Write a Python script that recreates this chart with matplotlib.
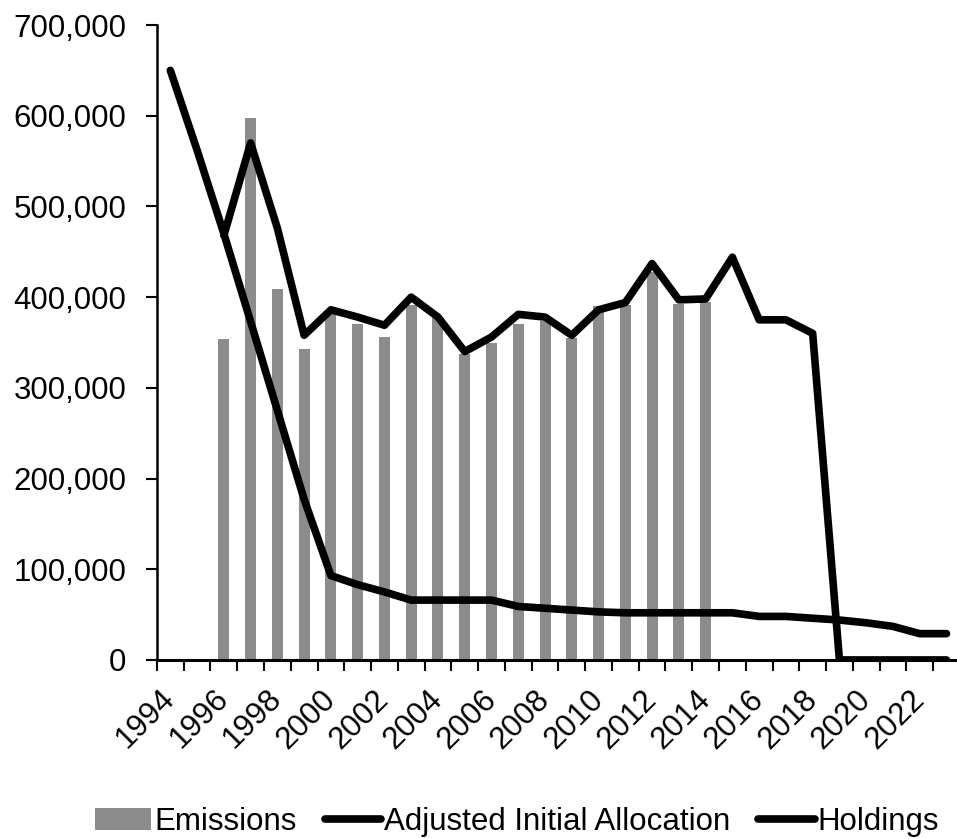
import numpy as np
import matplotlib
matplotlib.use("Agg")
import matplotlib.pyplot as plt

plt.rcParams['font.family'] = ['Liberation Sans', 'DejaVu Sans']

years = list(range(1994, 2024))

# emissions only reported 1996-2014
emissions = [np.nan, np.nan,
             354000, 597000, 409000, 343000, 381000, 370000, 356000, 391000,
             377000, 337000, 349000, 370000, 374000, 355000, 390000, 391000,
             428000, 392000, 395000,
             np.nan, np.nan, np.nan, np.nan, np.nan, np.nan, np.nan, np.nan, np.nan]

allocation = [650000, 562000, 470000, 373000, 275000, 177000, 93000, 83000,
              75000, 66000, 66000, 66000, 66000, 59000, 57000, 55000,
              53000, 52000, 52000, 52000, 52000, 52000, 48000, 48000,
              46000, 44000, 41000, 37000, 29000, 29000]

holdings = [np.nan, np.nan,
            468000, 570000, 476000, 358000, 386000, 378000, 369000, 400000,
            378000, 340000, 356000, 381000, 378000, 358000, 386000, 394000,
            437000, 397000, 398000, 444000, 375000, 375000, 360000,
            0, 0, 0, 0, 0]

fig = plt.figure(figsize=(9.57, 8.39), dpi=100)
ax = fig.add_axes([0.164, 0.2134, 0.839, 0.7568])

x = np.arange(len(years))
b = ax.bar(x, emissions, width=0.41, color='#8c8c8c', label='Emissions', zorder=1)
l1, = ax.plot(x, allocation, color='black', lw=5.5, solid_capstyle='round',
              solid_joinstyle='round', label='Adjusted Initial Allocation', zorder=3)
l2, = ax.plot(x, holdings, color='black', lw=5.5, solid_capstyle='round',
              solid_joinstyle='round', label='Holdings', zorder=3)

ax.set_xlim(-0.5, len(years) - 0.5)
ax.set_ylim(0, 700000)
ax.set_yticks(np.arange(0, 700001, 100000))
ax.set_yticklabels([f'{v:,}' for v in range(0, 700001, 100000)], fontsize=22.5)
ax.tick_params(axis='y', length=8, width=1.5, pad=14)

ax.set_xticks(x[::2])
ax.set_xticklabels([str(y) for y in years[::2]], fontsize=22.5, rotation=45,
                   ha='right', va='center', rotation_mode='anchor')
ax.tick_params(axis='x', which='major', length=0, pad=25)
ax.set_xticks(np.arange(-0.5, len(years), 1), minor=True)
ax.tick_params(axis='x', which='minor', length=8, width=1.5)

for s in ['top', 'right']:
    ax.spines[s].set_visible(False)
ax.spines['left'].set_linewidth(1.8)
ax.spines['bottom'].set_linewidth(2.2)

fig.legend([b, l1, l2], ['Emissions', 'Adjusted Initial Allocation', 'Holdings'],
           loc='center', bbox_to_anchor=(517 / 957, 1 - 822 / 839), ncol=3,
           frameon=False, fontsize=22.5, handlelength=1.8, handletextpad=0.1,
           columnspacing=0.9)

fig.savefig('out.png', dpi=100)
